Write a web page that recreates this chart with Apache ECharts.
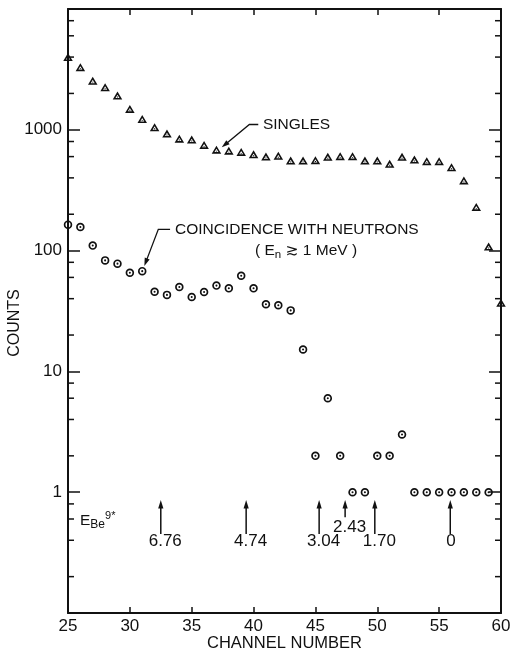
<!DOCTYPE html>
<html><head><meta charset="utf-8">
<script src="https://cdn.jsdelivr.net/npm/echarts@6/dist/echarts.min.js"></script>
<style>html,body{margin:0;padding:0;background:#fff}#c{width:513px;height:650px}</style>
</head><body><div id="c"></div>
<script>
// ---- data ----
const singlesChannels = [25,26,27,28,29,30,31,32,33,34,35,36,37,38,39,40,41,42,43,44,45,46,47,48,49,50,51,52,53,54,55,56,57,58,59,60];
const singlesCounts   = [4000,3300,2550,2250,1920,1490,1230,1050,930,845,830,750,685,672,656,627,600,610,556,556,561,597,605,605,556,556,523,597,567,550,550,490,381,230,108,37];
const coincChannels = [25,26,27,28,29,30,31,32,33,34,35,36,37,38,39,40,41,42,43,44,45,46,47,48,49,50,51,52,53,54,55,56,57,58,59];
const coincCounts   = [164,157,110,83,78,65.6,67.6,45.7,43,50,41.3,45.4,51.3,48.7,62,48.7,36,35.3,32,15.2,2,6,2,1,1,2,2,3,1,1,1,1,1,1,1];
const levelLabels   = ['6.76','4.74','3.04','2.43','1.70','0'];
const levelChannels = [32.5,39.4,45.3,47.4,49.8,55.9];
const xTickLabels = ['25','30','35','40','45','50','55','60'];
const yTickLabels = ['1','10','100','1000'];
const minorDecades = [0.1,1,10,100,1000];
const minorSteps = [2,4,6,8];

const INK = '#111';
const FONT = "'Liberation Sans', Arial, 'DejaVu Sans', sans-serif";
const minorTickValues = [];
minorDecades.forEach(d => minorSteps.forEach(s => minorTickValues.push(+(d * s).toPrecision(3))));

const circleSym = 'path://M0,-10A10,10,0,1,1,0,10A10,10,0,1,1,0,-10ZM0,-6A6,6,0,1,0,0,6A6,6,0,1,0,0,-6ZM0,-2.4A2.4,2.4,0,1,1,0,2.4A2.4,2.4,0,1,1,0,-2.4Z';
const triSym = 'path://M0,-9L10,8L-10,8ZM0,-2.4L-4.2,4.7L4.2,4.7ZM-1.2,1.6L1.2,1.6L1.2,3.6L-1.2,3.6Z';

function arrowHead(tip, from, len, halfW) {
  const dx = tip[0] - from[0], dy = tip[1] - from[1];
  const L = Math.hypot(dx, dy), ux = dx / L, uy = dy / L;
  const bx = tip[0] - ux * len, by = tip[1] - uy * len;
  return { type: 'polygon', shape: { points: [tip, [bx - uy * halfW, by + ux * halfW], [bx + uy * halfW, by - ux * halfW]] }, style: { fill: INK } };
}
function back(tip, from, d) {
  const dx = tip[0] - from[0], dy = tip[1] - from[1];
  const L = Math.hypot(dx, dy);
  return [tip[0] - dx / L * d, tip[1] - dy / L * d];
}
function txt(p, text, size, align) {
  return { type: 'text', x: p[0], y: p[1], style: { text: text, font: size + 'px ' + FONT, fill: INK, align: align, verticalAlign: 'middle' } };
}

const axisLine = { show: true, onZero: false, lineStyle: { color: INK, width: 2 } };
const tickStyle = { color: INK, width: 1.5 };

const chart = echarts.init(document.getElementById('c'));
chart.setOption({
  animation: false,
  backgroundColor: '#fff',
  grid: { left: 68, right: 12, top: 9, bottom: 37, containLabel: false, outerBoundsMode: 'none' },
  xAxis: [{
    type: 'value', min: 25, max: 60, interval: 5, position: 'bottom',
    axisLine: axisLine, axisTick: { inside: true, length: 6, lineStyle: tickStyle },
    axisLabel: { color: INK, fontSize: 17, fontFamily: FONT, margin: 5,
      formatter: v => xTickLabels.includes(String(v)) ? String(v) : '' },
    splitLine: { show: false },
    name: 'CHANNEL NUMBER', nameLocation: 'middle', nameGap: 22, nameMoveOverlap: false,
    nameTextStyle: { color: INK, fontSize: 16.5, fontFamily: FONT }
  }, {
    type: 'value', min: 25, max: 60, interval: 5, position: 'top',
    axisLine: axisLine, axisTick: { inside: true, length: 6, lineStyle: tickStyle },
    axisLabel: { show: false }, splitLine: { show: false }
  }],
  yAxis: [{
    type: 'log', logBase: 10, min: 0.1, max: 10000, splitNumber: 5, position: 'left',
    axisLine: axisLine, axisTick: { inside: true, length: 12, lineStyle: tickStyle },
    axisLabel: { color: INK, fontSize: 17, fontFamily: FONT, margin: 6,
      formatter: v => { const s = String(Math.round(v)); return (v >= 1 && yTickLabels.includes(s)) ? s : ''; } },
    splitLine: { show: false }
  }, {
    type: 'log', logBase: 10, min: 0.1, max: 10000, splitNumber: 5, position: 'right',
    axisLine: axisLine, axisTick: { inside: true, length: 12, lineStyle: tickStyle },
    axisLabel: { show: false }, splitLine: { show: false }
  }],
  graphic: [{
    type: 'text', x: 15, y: 323, rotation: Math.PI / 2,
    style: { text: 'COUNTS', font: '16px ' + FONT, fill: INK, align: 'center', verticalAlign: 'middle' }
  }],
  series: [{
    type: 'custom', name: 'minorTicks', clip: false, silent: true, z: 3,
    data: minorTickValues.map(v => [25, v]),
    renderItem: (params, api) => {
      const v = api.value(1);
      const l = api.coord([25, v]), r = api.coord([60, v]);
      return { type: 'group', children: [
        { type: 'line', shape: { x1: l[0], y1: l[1], x2: l[0] + 6, y2: l[1] }, style: { stroke: INK, lineWidth: 1.5 } },
        { type: 'line', shape: { x1: r[0], y1: r[1], x2: r[0] - 6, y2: r[1] }, style: { stroke: INK, lineWidth: 1.5 } }
      ] };
    }
  }, {
    type: 'scatter', name: 'SINGLES', clip: false, z: 5,
    symbol: triSym, symbolSize: [9.5, 8], itemStyle: { color: INK, opacity: 1 },
    data: singlesChannels.map((c, i) => [c, singlesCounts[i]])
  }, {
    type: 'scatter', name: 'COINCIDENCE', clip: false, z: 5,
    symbol: circleSym, symbolSize: 8.5, itemStyle: { color: INK, opacity: 1 },
    data: coincChannels.map((c, i) => [c, coincCounts[i]])
  }, {
    type: 'custom', name: 'levels', clip: false, silent: true, z: 4,
    data: levelChannels.map(c => [c, 1]),
    renderItem: (params, api) => {
      const ch = api.value(0);
      const lab = levelLabels[params.dataIndex];
      const staggered = lab === '2.43';
      const tip = api.coord([ch, 0.86]);
      const base = api.coord([ch, staggered ? 0.62 : 0.45]);
      const lp = api.coord([ch, staggered ? 0.515 : 0.389]);
      const dx = lab.indexOf('.') >= 0 ? 4.5 : 0.8;
      return { type: 'group', children: [
        { type: 'line', shape: { x1: base[0], y1: base[1], x2: tip[0], y2: tip[1] + 6 }, style: { stroke: INK, lineWidth: 1.5 } },
        arrowHead(tip, base, 8.5, 2.6),
        txt([lp[0] + dx, lp[1]], lab, 17, 'center')
      ] };
    }
  }, {
    type: 'custom', name: 'annotations', clip: false, silent: true, z: 4,
    data: [[25, 1]],
    renderItem: (params, api) => {
      const c = (x, y) => api.coord([x, y]);
      const sA = c(40.38, 1106), sB = c(39.66, 1106), sC = c(37.43, 716);
      const cA = c(33.25, 150), cB = c(32.30, 150), cC = c(31.17, 74.6);
      const t1 = c(40.76, 1106), t2 = c(33.65, 150), t3 = c(40.12, 100), t4 = c(25.97, 0.578);
      const lineSt = { stroke: INK, lineWidth: 1.3, fill: null };
      const rs = (size, lh, va) => ({ fontSize: size, fontFamily: FONT, fill: INK, lineHeight: lh, verticalAlign: va });
      return { type: 'group', children: [
        { type: 'polyline', shape: { points: [sA, sB, back(sC, sB, 6)] }, style: lineSt },
        arrowHead(sC, sB, 8, 2.6),
        { type: 'polyline', shape: { points: [cA, cB, back(cC, cB, 6)] }, style: lineSt },
        arrowHead(cC, cB, 8, 2.6),
        txt(t1, 'SINGLES', 15.5, 'left'),
        txt(t2, 'COINCIDENCE WITH NEUTRONS', 15.5, 'left'),
        { type: 'text', x: t3[0], y: t3[1], style: {
            text: '{a|( E}{s|n}{a| \u2273 1 MeV )}', align: 'left', verticalAlign: 'middle',
            rich: { a: rs(15.5, 20, 'middle'), s: rs(11.5, 12, 'bottom') } } },
        { type: 'text', x: t4[0], y: t4[1], style: {
            text: '{e|E}{s|Be}{p|9*}', align: 'left', verticalAlign: 'middle',
            rich: { e: rs(15.5, 20, 'middle'), s: rs(12, 12, 'bottom'), p: rs(11, 11, 'top') } } }
      ] };
    }
  }]
});
</script>
</body></html>
